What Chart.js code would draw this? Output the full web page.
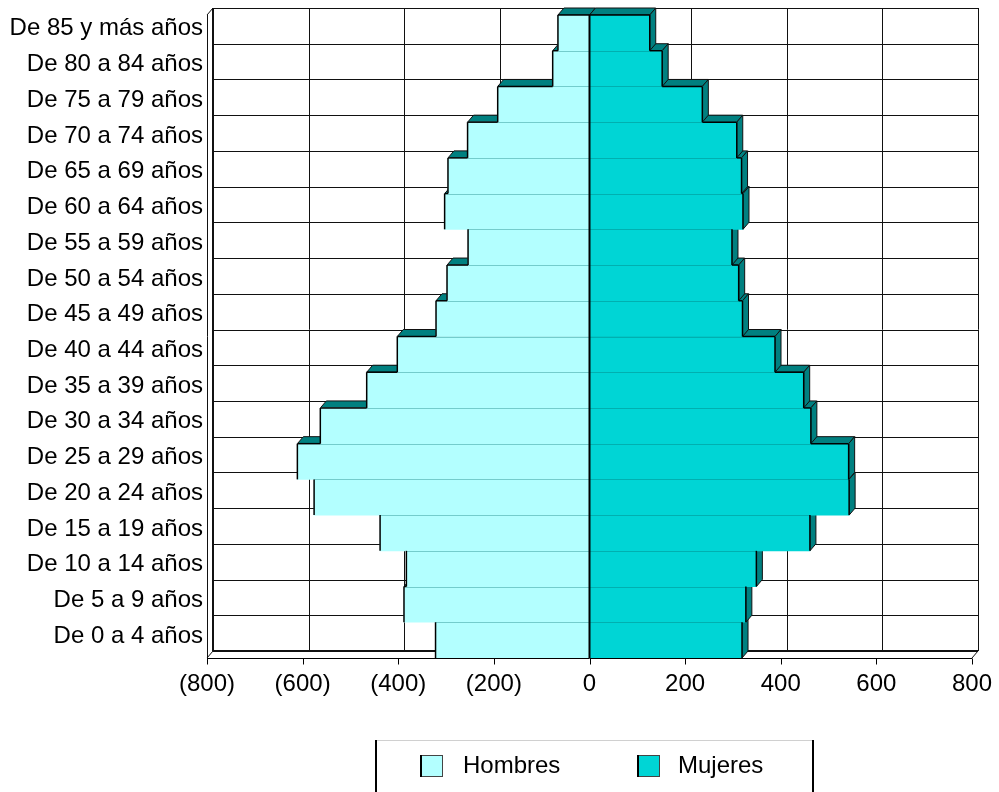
<!DOCTYPE html>
<html>
<head>
<meta charset="utf-8">
<script src="https://cdn.jsdelivr.net/npm/chart.js@4.4.1/dist/chart.umd.min.js"></script>
<style>
	html, body { margin: 0; padding: 0; background: #fff; }
	canvas { display: block; }
</style>
</head>
<body>
<canvas id="piramide" width="999" height="792"></canvas>
<script>
// grupos de edad, de arriba hacia abajo
const grupos = [
	'De 85 y más años', 'De 80 a 84 años', 'De 75 a 79 años', 'De 70 a 74 años',
	'De 65 a 69 años', 'De 60 a 64 años', 'De 55 a 59 años', 'De 50 a 54 años',
	'De 45 a 49 años', 'De 40 a 44 años', 'De 35 a 39 años', 'De 30 a 34 años',
	'De 25 a 29 años', 'De 20 a 24 años', 'De 15 a 19 años', 'De 10 a 14 años',
	'De 5 a 9 años', 'De 0 a 4 años'
];
// hombres van a la izquierda (negativos)
const hombres = [-66, -77, -192, -255, -296, -303, -254, -298, -321, -402, -466, -563, -611, -576, -438, -383, -388, -322];
const mujeres = [126, 152, 236, 308, 318, 321, 298, 312, 320, 388, 448, 463, 542, 543, 461, 349, 327, 319];
const ejeX = [-800, -600, -400, -200, 0, 200, 400, 600, 800];

const COLOR_H = '#b3ffff';
const COLOR_M = '#00d5d5';
const COLOR_FONDO = '#008080';
const DX = 6, DY = -7; // profundidad del efecto 3D
const FUENTE = '"Liberation Sans", Arial, sans-serif';

function poly(ctx, pts, fill) {
	ctx.beginPath();
	ctx.moveTo(pts[0][0], pts[0][1]);
	for (let i = 1; i < pts.length; i++) ctx.lineTo(pts[i][0], pts[i][1]);
	ctx.closePath();
	ctx.fillStyle = fill;
	ctx.fill();
	ctx.stroke();
}

function linea(ctx, x1, y1, x2, y2) {
	ctx.beginPath();
	ctx.moveTo(x1, y1);
	ctx.lineTo(x2, y2);
	ctx.stroke();
}

function barras(chart, i) {
	return chart.getDatasetMeta(i).data.map(b => b.getProps(['x', 'base', 'y', 'height'], true));
}

const efecto3D = {
	id: 'efecto3D',
	beforeDatasetsDraw(chart) {
		const ctx = chart.ctx;
		const a = chart.chartArea;
		const sx = chart.scales.x;
		const alto = (a.bottom - a.top) / grupos.length;
		ctx.save();
		ctx.strokeStyle = '#111';
		ctx.lineWidth = 1;

		// pared del fondo: lineas verticales
		ejeX.forEach(v => {
			const x = Math.round(sx.getPixelForValue(v) + DX) + 0.5;
			linea(ctx, x, a.top + DY, x, a.bottom + DY);
		});
		// lineas horizontales
		for (let k = 0; k <= grupos.length; k++) {
			const y = Math.round(a.top + k * alto + DY) + 0.5;
			linea(ctx, a.left + DX, y, a.right + DX, y);
		}
		// pared izquierda y piso
		ctx.lineWidth = 2;
		linea(ctx, a.left + DX, a.top + DY, a.left + DX, a.bottom + DY);
		linea(ctx, a.left + DX, a.bottom + DY, a.right + DX, a.bottom + DY);
		ctx.lineWidth = 1;
		linea(ctx, a.left + 0.5, a.top, a.left + 0.5, a.bottom);
		linea(ctx, a.left, a.top, a.left + DX, a.top + DY);
		linea(ctx, a.left, a.bottom, a.left + DX, a.bottom + DY);
		linea(ctx, a.right, a.bottom, a.right + DX, a.bottom + DY);

		// caras de profundidad, de abajo hacia arriba
		const bh = barras(chart, 0);
		const bm = barras(chart, 1);
		ctx.lineJoin = 'miter';
		for (let k = grupos.length - 1; k >= 0; k--) {
			const h = bh[k], m = bm[k];
			let top = h.y - h.height / 2;
			poly(ctx, [[h.x, top], [h.base, top], [h.base + DX, top + DY], [h.x + DX, top + DY]], COLOR_FONDO);
			top = m.y - m.height / 2;
			const bot = m.y + m.height / 2;
			poly(ctx, [[m.base, top], [m.x, top], [m.x + DX, top + DY], [m.base + DX, top + DY]], COLOR_FONDO);
			poly(ctx, [[m.x, top], [m.x, bot], [m.x + DX, bot + DY], [m.x + DX, top + DY]], COLOR_FONDO);
		}
		ctx.restore();
	},
	afterDatasetsDraw(chart) {
		const ctx = chart.ctx;
		const a = chart.chartArea;
		const sx = chart.scales.x;
		const bh = barras(chart, 0);
		const bm = barras(chart, 1);
		ctx.save();

		// separaciones suaves entre filas
		ctx.lineWidth = 1;
		for (let k = 1; k < grupos.length; k++) {
			const y = Math.round(bh[k].y - bh[k].height / 2) + 0.5;
			ctx.strokeStyle = 'rgba(0,110,110,0.35)';
			linea(ctx, Math.max(bh[k].x, bh[k - 1].x), y, bh[k].base, y);
			linea(ctx, bm[k].base, y, Math.min(bm[k].x, bm[k - 1].x), y);
		}

		// bordes expuestos
		ctx.strokeStyle = '#000';
		ctx.lineWidth = 1.5;
		for (let k = 0; k < grupos.length; k++) {
			const h = bh[k], m = bm[k];
			const top = h.y - h.height / 2, bot = h.y + h.height / 2;
			linea(ctx, h.x, top, h.x, bot);
			linea(ctx, m.x, top, m.x, bot);
			const hFin = k === 0 ? h.base : Math.min(bh[k - 1].x, h.base);
			if (h.x < hFin) linea(ctx, h.x, top, hFin, top);
			const mIni = k === 0 ? m.base : Math.max(bm[k - 1].x, m.base);
			if (m.x > mIni) linea(ctx, mIni, top, m.x, top);
		}

		// linea del cero
		ctx.lineWidth = 2;
		const x0 = sx.getPixelForValue(0);
		linea(ctx, x0, a.top, x0, a.bottom);

		// eje horizontal con marcas
		ctx.lineWidth = 1;
		const yb = Math.round(a.bottom) + 0.5;
		linea(ctx, a.left, yb, a.right, yb);
		ejeX.forEach(v => {
			const x = Math.round(sx.getPixelForValue(v)) + 0.5;
			linea(ctx, x, yb, x, yb + 6);
		});
		ctx.restore();
	},
	afterDraw(chart) {
		// leyenda dibujada a mano
		const ctx = chart.ctx;
		ctx.save();
		ctx.strokeStyle = '#d0d0d0';
		ctx.lineWidth = 1;
		linea(ctx, 375, 740.5, 813, 740.5);
		ctx.strokeStyle = '#000';
		ctx.lineWidth = 2;
		linea(ctx, 376, 740, 376, 792);
		linea(ctx, 813, 740, 813, 792);

		const claves = [[420, 463], [637, 678]];
		chart.data.datasets.forEach((ds, i) => {
			const [bx, tx] = claves[i];
			ctx.fillStyle = ds.backgroundColor;
			ctx.fillRect(bx, 755, 23, 22);
			ctx.strokeStyle = '#444';
			ctx.lineWidth = 1;
			ctx.strokeRect(bx + 0.5, 755.5, 22, 21);
			ctx.strokeStyle = '#000';
			ctx.lineWidth = 2;
			linea(ctx, bx + 1, 755, bx + 1, 777);
			ctx.fillStyle = '#000';
			ctx.font = '24px ' + FUENTE;
			ctx.textBaseline = 'middle';
			ctx.textAlign = 'left';
			ctx.fillText(ds.label, tx, 766);
		});
		ctx.restore();
	}
};

Chart.defaults.font.family = FUENTE;
Chart.defaults.font.size = 24;
Chart.defaults.color = '#000';

const ctx = document.getElementById('piramide').getContext('2d');
const chart = new Chart(ctx, {
	type: 'bar',
	data: {
		labels: grupos,
		datasets: [
			{
				label: 'Hombres',
				data: hombres,
				backgroundColor: COLOR_H,
				borderWidth: 0,
				categoryPercentage: 1,
				barPercentage: 1
			},
			{
				label: 'Mujeres',
				data: mujeres,
				backgroundColor: COLOR_M,
				borderWidth: 0,
				categoryPercentage: 1,
				barPercentage: 1
			}
		]
	},
	options: {
		indexAxis: 'y',
		responsive: false,
		animation: false,
		layout: { padding: { top: 15, right: 27, left: 0, bottom: 0 } },
		plugins: {
			legend: { display: false },
			tooltip: { enabled: false }
		},
		scales: {
			x: {
				stacked: true,
				min: -800,
				max: 800,
				grid: { display: false, drawTicks: false },
				border: { display: false },
				afterFit: function (scale) {
					scale.height = 134;
					scale.paddingLeft = 0;
					scale.paddingRight = 0;
				},
				afterBuildTicks: function (scale) {
					scale.ticks = ejeX.map(v => ({ value: v }));
				},
				ticks: {
					padding: 12,
					font: { size: 24 },
					callback: function (v) {
						return v < 0 ? '(' + Math.abs(v) + ')' : String(v);
					}
				}
			},
			y: {
				stacked: true,
				grid: { display: false, drawTicks: false },
				border: { display: false },
				afterFit: function (scale) {
					scale.width = 207;
					scale.paddingTop = 0;
					scale.paddingBottom = 0;
				},
				ticks: {
					autoSkip: false,
					padding: 4,
					labelOffset: -4,
					font: { size: 24 }
				}
			}
		}
	},
	plugins: [efecto3D]
});
</script>
</body>
</html>
